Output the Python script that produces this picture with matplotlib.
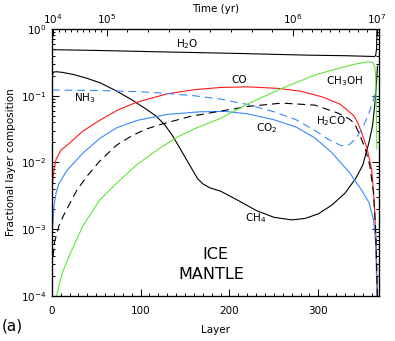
import matplotlib
matplotlib.use("Agg")
import matplotlib.pyplot as plt
from matplotlib.ticker import LogLocator, NullFormatter, MultipleLocator

# ---------------- data ----------------
h2o_layer = [0, 40, 80, 120, 167, 210, 250, 290, 330, 360, 363, 364.5, 365.5, 366]
h2o_val = [0.49, 0.48, 0.468, 0.455, 0.442, 0.43, 0.417, 0.405, 0.398, 0.388, 0.385, 0.40, 0.5, 0.98]

ch4_layer = [0, 0.7, 2, 5, 12, 25, 40, 55, 73, 90, 105, 118, 128, 136, 147, 157, 164, 170, 178,
             190, 210, 230, 250, 270, 285, 300, 315, 330, 342, 350, 357, 361, 364, 365.5, 366.5]
ch4_val = [0.17, 0.209, 0.226, 0.229, 0.224, 0.207, 0.182, 0.155, 0.1175, 0.087, 0.0646, 0.049,
           0.0355, 0.0251, 0.0141, 0.00832, 0.00575, 0.00479, 0.00417, 0.00372, 0.00269, 0.00191,
           0.00151, 0.00138, 0.00145, 0.0017, 0.00229, 0.00347, 0.00575, 0.00912, 0.02, 0.0355,
           0.0851, 0.158, 0.275]

co_layer = [0, 1, 2.5, 5, 10, 20, 35, 55, 75, 95, 130, 160, 190, 220, 255, 280, 305, 325,
            340, 345, 350, 355, 360, 363, 365, 366.5]
co_val = [0.00282, 0.00501, 0.00794, 0.0112, 0.0151, 0.0195, 0.0295, 0.0437, 0.0617, 0.0794,
          0.107, 0.123, 0.133, 0.136, 0.129, 0.117, 0.0955, 0.0741, 0.0501, 0.038, 0.0251,
          0.0158, 0.00794, 0.00251, 0.00063, 0.0001]

co2_layer = [0, 1, 2.5, 5, 8, 17, 35, 54, 73, 96, 130, 167, 195, 220, 250, 275, 296, 315,
             335, 348, 357, 362, 364.5, 366]
co2_val = [0.0005, 0.00112, 0.00224, 0.00355, 0.00479, 0.00759, 0.0138, 0.0229, 0.0331, 0.0427,
           0.0525, 0.0575, 0.0582, 0.0537, 0.0437, 0.0339, 0.0234, 0.0141, 0.00708, 0.00398,
           0.00251, 0.00141, 0.000631, 0.0001]

nh3_layer = [0, 50, 100, 130, 160, 190, 220, 250, 275, 296, 312, 326, 335, 343, 350, 356, 361, 364, 366]
nh3_val = [0.1216, 0.120, 0.1148, 0.108, 0.1, 0.0891, 0.0741, 0.0575, 0.0437, 0.0302, 0.0219,
           0.0178, 0.0186, 0.0234, 0.0339, 0.0501, 0.0794, 0.107, 0.129]

h2co_layer = [0, 3, 8, 13, 28, 40, 54, 73, 90, 106, 125, 156, 190, 221, 259, 296, 322, 335,
              341, 347, 353, 358, 362, 364.5, 366.5]
h2co_val = [0.000251, 0.000631, 0.00112, 0.00158, 0.0038, 0.00631, 0.0105, 0.0182, 0.0251,
            0.0316, 0.038, 0.049, 0.0589, 0.0692, 0.0776, 0.0724, 0.055, 0.0447, 0.038, 0.0251,
            0.0158, 0.00891, 0.00355, 0.001, 0.0001]

ch3oh_layer = [5.5, 8, 12, 21, 35, 54, 73, 96, 120, 141, 165, 190, 221, 259, 296, 320, 340,
               356, 361, 363.5, 364.5, 365.3, 365.8]
ch3oh_val = [0.0001, 0.000141, 0.000224, 0.000437, 0.00112, 0.00275, 0.0049, 0.00933, 0.0158,
             0.024, 0.0339, 0.0457, 0.0759, 0.129, 0.204, 0.251, 0.295, 0.324, 0.316, 0.275,
             0.2, 0.063, 0.0158]

x_ticks = [0, 100, 200, 300]
time_major_labels = ["$10^4$", "$10^5$", "$10^6$", "$10^7$"]
time_major_layer = [1.5, 61.9, 271.4, 365.6]

# ---------------- figure ----------------
fig = plt.figure(figsize=(3.95, 3.41), dpi=100)
ax = fig.add_axes([0.131, 0.132, 0.829, 0.783])

lw = 0.8
red = "#ff1a1a"
blue = "#3a87ff"
green = "#5ee83a"

ax.plot(h2o_layer, h2o_val, color="black", lw=lw)
ax.plot(ch4_layer, ch4_val, color="black", lw=lw)
ax.plot(co_layer, co_val, color=red, lw=lw)
ax.plot(co2_layer, co2_val, color=blue, lw=lw)
ax.plot(nh3_layer, nh3_val, color=blue, lw=lw, ls=(0, (7, 4.5)))
ax.plot(h2co_layer, h2co_val, color="black", lw=lw, ls=(0, (7, 4.5)))
ax.plot(ch3oh_layer, ch3oh_val, color=green, lw=lw)

ax.set_yscale("log")
ax.set_xlim(0, 368.5)
ax.set_ylim(1e-4, 1)
ax.set_xticks(x_ticks)
ax.xaxis.set_minor_locator(MultipleLocator(10))
ax.yaxis.set_major_locator(LogLocator(base=10, numticks=10))
ax.yaxis.set_minor_locator(LogLocator(base=10, subs=range(2, 10), numticks=20))
ax.yaxis.set_minor_formatter(NullFormatter())

fs = 7.5
ax.tick_params(which="both", direction="in", top=False, right=True, labelsize=fs, width=0.7)
ax.tick_params(which="major", length=5, pad=4)
ax.tick_params(axis="x", which="major", pad=7)
ax.tick_params(which="minor", length=2.5)
for s in ax.spines.values():
    s.set_linewidth(0.9)

ax.set_xlabel("Layer", fontsize=fs, labelpad=7)
ax.set_ylabel("Fractional layer composition", fontsize=fs, labelpad=3)

# top time axis
axt = ax.twiny()
axt.set_xlim(ax.get_xlim())
axt.set_xticks(time_major_layer)
axt.set_xticklabels(time_major_labels)
minor_pos = []
for i in range(3):
    a, b = time_major_layer[i], time_major_layer[i + 1]
    for m in range(2, 10):
        minor_pos.append(a + (m - 1) / 9 * (b - a))
axt.set_xticks(minor_pos, minor=True)
axt.tick_params(which="both", direction="in", labelsize=fs, width=0.7)
axt.tick_params(which="major", length=5, pad=2)
axt.tick_params(which="minor", length=2.5)
axt.set_xlabel("Time (yr)", fontsize=fs, labelpad=0.5)

# labels
lab = dict(fontsize=fs, ha="center", va="center")
ax.text(152, 0.596, "H$_2$O", **lab)
ax.text(211, 0.172, "CO", **lab)
ax.text(330, 0.166, "CH$_3$OH", **lab)
ax.text(37.5, 0.0925, "NH$_3$", **lab)
ax.text(242, 0.0328, "CO$_2$", **lab)
ax.text(314, 0.0417, "H$_2$CO", **lab)
ax.text(230, 0.00147, "CH$_4$", **lab)
ax.text(184, 4.24e-4, "ICE", fontsize=11.5, ha="center", va="center")
ax.text(180, 2.12e-4, "MANTLE", fontsize=11.5, ha="center", va="center")

fig.text(12 / 395, 1 - 326 / 341, "(a)", fontsize=11, ha="center", va="center")

fig.savefig("out.png", dpi=100)
